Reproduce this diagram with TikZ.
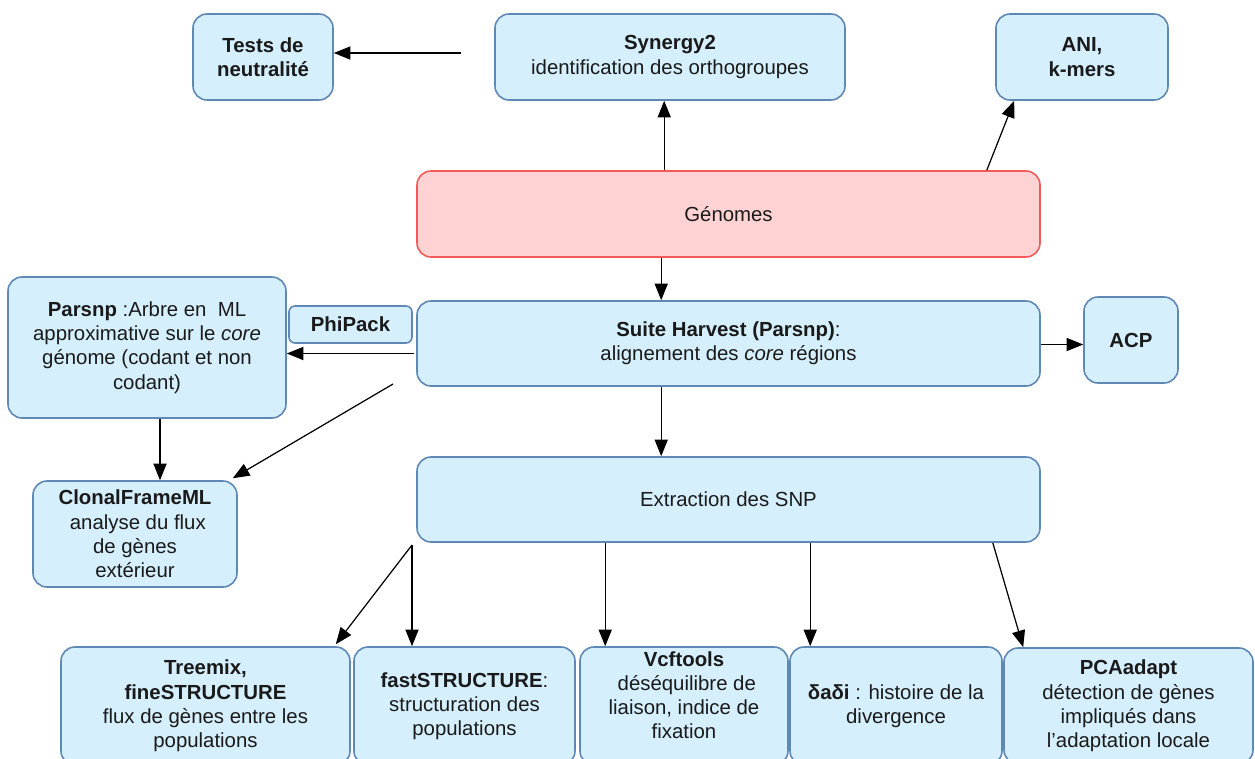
\documentclass[tikz,border=0pt]{standalone}
\usepackage{fontspec}
\setmainfont{Liberation Sans}
\usepackage{tikz}
\usetikzlibrary{arrows.meta,calc}

\definecolor{boxblue}{HTML}{D5EFFD}
\definecolor{boxline}{HTML}{5F88B5}
\definecolor{boxpink}{HTML}{FFD3D3}
\definecolor{boxred}{HTML}{F25A5A}
\definecolor{inkgray}{HTML}{1A1A1A}

\tikzset{
  tool/.style={draw=boxline, fill=boxblue, line width=0.9pt, rounded corners=0.28cm,
    align=center, inner sep=2pt, text=inkgray, font=\fontsize{11.6}{13.8}\selectfont},
  source/.style={tool, draw=boxred, fill=boxpink},
  wd/.style={minimum width=#1*0.02cm},
  ht/.style={minimum height=#1*0.02cm},
  flow/.style={->, line width=0.7pt}
}

\begin{document}
\begin{tikzpicture}[x=0.02cm, y=-0.02cm, >={Triangle[length=9.5pt,width=7.5pt]}, line join=round]
    \useasboundingbox (0,0) rectangle (1255,758);
    \clip (0,0) rectangle (1255,758);

    % top row
    \node[tool, wd=140, ht=86] (tst) at (263,57) {\textbf{Tests de}\\\textbf{neutralité}};
    \node[tool, wd=350, ht=86] (syn) at (670,57) {\textbf{Synergy2}\\identification des orthogroupes};
    \node[tool, wd=172, ht=86] (ani) at (1082,57) {\textbf{ANI,}\\\textbf{k-mers}};

    % centre column
    \node[source, wd=623, ht=86] (gen) at (728.5,214) {Génomes};
    \node[tool, wd=623, ht=85] (har) at (728.5,343.5) {\textbf{Suite Harvest (Parsnp)}:\\alignement des \textit{core} régions};
    \node[tool, wd=623, ht=85] (ext) at (728.5,499.5) {Extraction des SNP};

    % left and right of Harvest
    \node[tool, wd=278, ht=141] (par) at (147,347.5) {\textbf{Parsnp} :Arbre en\ \ ML\\approximative sur le \textit{core}\\génome (codant et non\\codant)};
    \node[tool, wd=123, ht=37, rounded corners=0.12cm] (phi) at (350.5,324.5) {\textbf{PhiPack}};
    \node[tool, wd=94, ht=86] (acp) at (1131,340) {\textbf{ACP}};
    \node[tool, wd=204, ht=106] (cfm) at (135,534) {\textbf{ClonalFrameML}\\\ analyse du flux\\de gènes\\extérieur};

    % bottom row
    \node[tool, wd=289, ht=118] (tre) at (205.5,706) {\textbf{Treemix,}\\\textbf{fineSTRUCTURE}\\flux de gènes entre les\\populations};
    \node[tool, wd=221, ht=118] (fst) at (464.5,706) {\textbf{fastSTRUCTURE}:\\structuration des\\populations};
    \node[tool, wd=208, ht=118, text depth=0.44cm] (vcf) at (684,706) {\textbf{Vcftools}\\\ déséquilibre de\\liaison, indice de\\fixation};
    \node[tool, wd=212, ht=118] (dad) at (896,706) {\textbf{δaδi} : histoire de la\\divergence};
    \node[tool, wd=249, ht=116] (pca) at (1128.5,706) {\textbf{PCAadapt}\\détection de gènes\\impliqués dans\\l'adaptation locale};

    % free ends
    \coordinate (tstart) at (461,53);
    \coordinate (cfstart) at (393,384);
    \coordinate (xstart) at (412,545);

    % connectors
    \draw[flow] (tstart) -- (tstart -| tst.east);
    \draw[flow] ($(gen.north west)+(248,0)$) coordinate (g1) -- (g1 |- syn.south);
    \draw[flow] ($(gen.north east)+(-54,0)$) -- ($(ani.south west)+(19,0)$);
    \draw[flow] ($(gen.south west)+(245,0)$) coordinate (g2) -- (g2 |- har.north);
    \draw[flow] ($(har.west)+(-2,10)$) coordinate (h1) -- (h1 -| par.east);
    \draw[flow] ($(har.east)+(0,1)$) coordinate (h2) -- (h2 -| acp.west);
    \draw[flow] (cfstart) -- ($(cfm.north east)+(-5,-2)$);
    \draw[flow] ($(par.south)+(13,0)$) coordinate (p1) -- (p1 |- cfm.north);
    \draw[flow] ($(har.south west)+(245,0)$) coordinate (h3) -- (h3 |- ext.north);
    \draw[flow] (xstart) -- ($(tre.north east)+(-15,-2)$);
    \draw[flow] (xstart) -- (xstart |- fst.north);
    \draw[flow] ($(ext.south west)+(189,0)$) coordinate (e1) -- (e1 |- vcf.north);
    \draw[flow] ($(ext.south west)+(394,0)$) coordinate (e2) -- (e2 |- dad.north);
    \draw[flow] ($(ext.south east)+(-48,0)$) -- ($(pca.north west)+(20,0)$);
  \end{tikzpicture}
\end{document}
